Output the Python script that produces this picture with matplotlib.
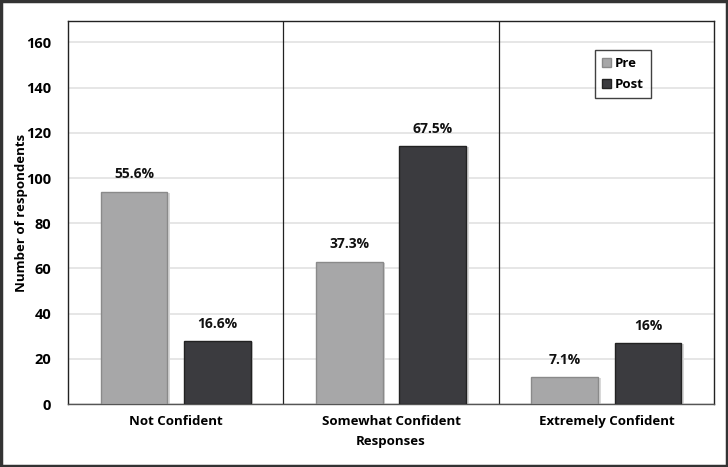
import matplotlib
matplotlib.use('Agg')
import matplotlib.pyplot as plt
from matplotlib.patches import Rectangle
import numpy as np

plt.rcParams['font.family'] = ['Open Sans', 'DejaVu Sans']

categories = ['Not Confident', 'Somewhat Confident', 'Extremely Confident']
pre_counts = [94, 63, 12]
post_counts = [28, 114, 27]
pre_labels = ['55.6%', '37.3%', '7.1%']
post_labels = ['16.6%', '67.5%', '16%']
series_names = ['Pre', 'Post']

pre_color = '#a7a7a8'
post_color = '#3b3b3f'

fig = plt.figure(figsize=(7.28, 4.67), dpi=100)
ax = fig.add_axes([0.0934, 0.1349, 0.8874, 0.8201])

x = np.arange(len(categories))
w = 0.31
off = 0.193

# soft shadow under bars, like the office chart
for xs, vals in ((x - off, pre_counts), (x + off, post_counts)):
    for xi, v in zip(xs, vals):
        ax.bar(xi + 0.012, v, w, bottom=-0.4, color='#d8d8d8', zorder=2, linewidth=0)

b1 = ax.bar(x - off, pre_counts, w, color=pre_color, edgecolor='#8a8a8a', linewidth=1.0,
            zorder=3, label=series_names[0])
b2 = ax.bar(x + off, post_counts, w, color=post_color, edgecolor='#222222', linewidth=1.0,
            zorder=3, label=series_names[1])

for rect, lab in zip(b1, pre_labels):
    ax.text(rect.get_x() + rect.get_width() / 2, rect.get_height() + 4.5, lab,
            ha='center', va='bottom', fontsize=10, fontweight='bold', color='#111111')
for rect, lab in zip(b2, post_labels):
    ax.text(rect.get_x() + rect.get_width() / 2, rect.get_height() + 4.5, lab,
            ha='center', va='bottom', fontsize=10, fontweight='bold', color='#111111')

ax.set_xlim(-0.5, len(categories) - 0.5)
ax.set_ylim(0, 169.5)
ax.set_yticks(np.arange(0, 161, 20))
ax.set_xticks(x)
ax.set_xticklabels(categories, fontsize=9.5, fontweight='bold')
for t in ax.get_yticklabels():
    t.set_fontsize(10.5)
    t.set_fontweight('bold')
ax.tick_params(axis='both', length=0)
ax.tick_params(axis='y', pad=12)
ax.tick_params(axis='x', pad=8)

ax.yaxis.grid(True, color='#e2e2e2', linewidth=1.2, zorder=0)
ax.set_axisbelow(True)

# category separators
for sep in x[:-1] + 0.5:
    ax.axvline(sep, color='#222222', linewidth=0.9, zorder=1)

for s in ax.spines.values():
    s.set_color('#222222')
    s.set_linewidth(1.0)
ax.spines['bottom'].set_color('#555555')

ax.set_ylabel('Number of respondents', fontsize=9.5, fontweight='bold')
ax.yaxis.set_label_coords(-0.062, 0.5)
ax.set_xlabel('Responses', fontsize=9.5, fontweight='bold')
ax.xaxis.set_label_coords(0.5, -0.082)

leg = ax.legend(loc='upper left', bbox_to_anchor=(0.815, 0.925), frameon=True, fancybox=False,
                prop={'weight': 'bold', 'size': 9.5}, handlelength=0.7,
                handleheight=0.7, handletextpad=0.3, borderpad=0.55, labelspacing=0.6,
                borderaxespad=0)
leg.get_frame().set_edgecolor('#111111')
leg.get_frame().set_linewidth(1.0)

# dark frame round the whole picture
fig.patches.append(Rectangle((0.002, 0.003), 0.996, 0.994, transform=fig.transFigure,
                             fill=False, edgecolor='#333333', linewidth=2.5))

fig.savefig('out.png', dpi=100)
